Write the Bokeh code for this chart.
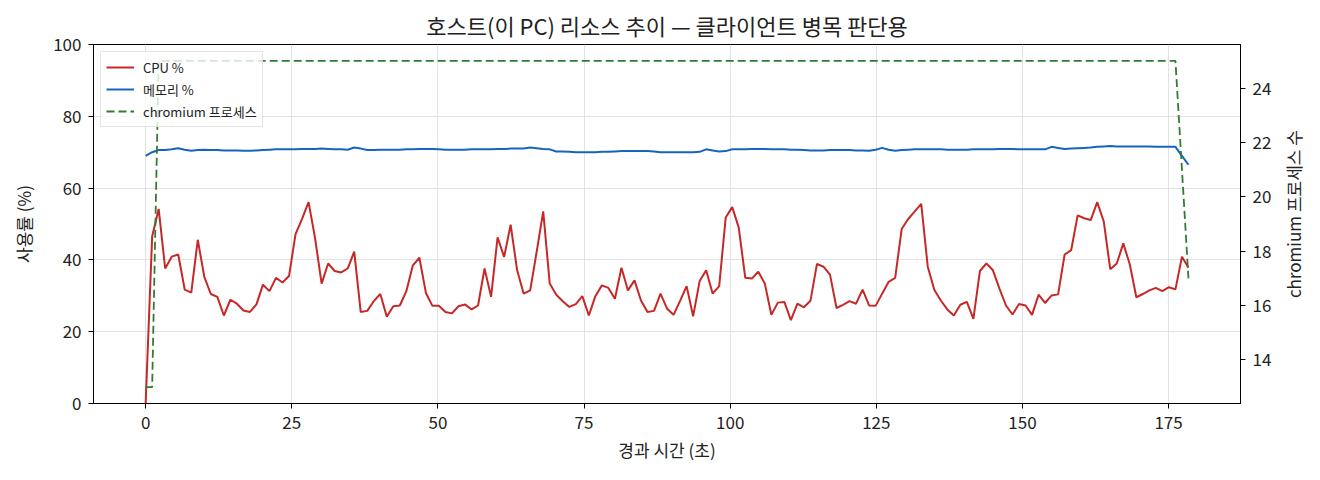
import math

from bokeh.embed import file_html
from bokeh.resources import INLINE
from bokeh.plotting import figure
from bokeh.layouts import row
from bokeh.models import Range1d, LinearAxis, Legend, LegendItem, FixedTicker
from bokeh.core.properties import value

# sampling interval of the monitor (s)
SAMPLE_SEC = 1.115

cpu = [0.0, 46.5, 54.2, 37.6, 40.9, 41.5, 31.7, 30.9, 45.6, 35.3,
       30.5, 29.7, 24.5, 28.9, 27.8, 25.9, 25.5, 27.6, 33.1, 31.3,
       35.0, 33.7, 35.5, 47.2, 51.4, 56.1, 46.0, 33.4, 39.0, 36.9,
       36.5, 37.6, 42.3, 25.5, 25.8, 28.5, 30.5, 24.2, 27.1, 27.3,
       31.3, 38.5, 40.6, 30.8, 27.2, 27.2, 25.5, 25.1, 27.1, 27.6,
       26.2, 27.3, 37.6, 29.7, 46.3, 40.8, 49.8, 37.1, 30.6, 31.5,
       42.3, 53.5, 33.4, 30.3, 28.5, 26.9, 27.7, 29.9, 24.5, 29.9,
       32.9, 32.2, 29.2, 37.8, 31.5, 34.3, 28.7, 25.5, 25.8, 30.6,
       26.4, 24.7, 28.6, 32.7, 24.3, 34.1, 37.1, 30.6, 32.7, 51.8,
       54.7, 49.0, 35.0, 34.8, 36.7, 33.4, 24.7, 28.1, 28.3, 23.2,
       27.8, 26.8, 28.6, 38.9, 38.1, 35.9, 26.6, 27.5, 28.5, 27.8,
       31.7, 27.3, 27.2, 30.6, 33.9, 35.0, 48.6, 51.4, 53.5, 55.6,
       38.1, 31.7, 28.7, 26.2, 24.5, 27.5, 28.3, 23.6, 36.9, 39.0,
       37.1, 32.0, 27.3, 24.8, 27.7, 27.3, 24.7, 30.3, 28.0, 30.1,
       30.4, 41.5, 42.7, 52.4, 51.6, 51.1, 56.1, 50.7, 37.4, 39.0,
       44.6, 38.7, 29.6, 30.5, 31.5, 32.2, 31.3, 32.4, 31.8, 40.9,
       37.8]

mem = [69.0, 70.0, 70.6, 70.6, 70.8, 71.1, 70.7, 70.4, 70.6, 70.7,
       70.6, 70.6, 70.5, 70.5, 70.5, 70.4, 70.4, 70.5, 70.6, 70.7,
       70.8, 70.8, 70.8, 70.8, 70.9, 70.9, 70.9, 71.0, 70.9, 70.8,
       70.8, 70.7, 71.3, 71.0, 70.6, 70.6, 70.7, 70.7, 70.7, 70.7,
       70.8, 70.8, 70.9, 70.9, 70.9, 70.8, 70.7, 70.7, 70.7, 70.7,
       70.8, 70.8, 70.8, 70.8, 70.9, 70.9, 71.0, 71.0, 71.0, 71.3,
       71.1, 70.9, 70.8, 70.2, 70.2, 70.1, 70.0, 70.0, 70.0, 70.0,
       70.1, 70.1, 70.2, 70.3, 70.3, 70.3, 70.3, 70.3, 70.2, 70.0,
       70.0, 70.0, 70.0, 70.0, 70.0, 70.1, 70.8, 70.5, 70.2, 70.3,
       70.8, 70.8, 70.8, 70.9, 70.9, 70.9, 70.8, 70.8, 70.8, 70.7,
       70.7, 70.6, 70.5, 70.5, 70.5, 70.6, 70.6, 70.6, 70.6, 70.5,
       70.5, 70.4, 70.7, 71.2, 70.7, 70.4, 70.6, 70.7, 70.8, 70.8,
       70.8, 70.8, 70.8, 70.7, 70.7, 70.7, 70.7, 70.8, 70.8, 70.8,
       70.8, 70.9, 70.9, 70.9, 70.8, 70.8, 70.8, 70.8, 70.8, 71.5,
       71.2, 70.9, 71.0, 71.1, 71.2, 71.3, 71.5, 71.6, 71.7, 71.6,
       71.6, 71.6, 71.6, 71.6, 71.6, 71.5, 71.5, 71.5, 71.5, 69.0,
       66.5]

procs = [13, 13] + [25] * 157 + [21, 17]

elapsed = [round(i * SAMPLE_SEC, 3) for i in range(len(cpu))]

FONT = "Noto Sans CJK KR"
H = 472

p = figure(width=1274, height=H, output_backend="svg", toolbar_location=None,
           x_range=Range1d(-8.92, 187.3), y_range=Range1d(0, 100),
           title="호스트(이 PC) 리소스 추이 — 클라이언트 병목 판단용",
           min_border_left=93, min_border_right=34, min_border_top=44, min_border_bottom=69)
p.extra_y_ranges = {"proc": Range1d(12.4, 25.6)}

p.title.align = "center"
p.title.text_font = FONT
p.title.text_font_size = "22px"
p.title.text_font_style = "normal"
p.title.text_color = "#222222"
p.title.standoff = 7

p.outline_line_color = "black"
p.outline_line_alpha = 1
p.outline_line_width = 1

p.xgrid.grid_line_color = "#e2e2e2"
p.ygrid.grid_line_color = "#e2e2e2"

p.xaxis.ticker = FixedTicker(ticks=[0, 25, 50, 75, 100, 125, 150, 175])
p.yaxis.ticker = FixedTicker(ticks=[0, 20, 40, 60, 80, 100])
p.xaxis.axis_label = "경과 시간 (초)"
p.yaxis.axis_label = "사용률 (%)"

right = LinearAxis(y_range_name="proc",
                   ticker=FixedTicker(ticks=[14, 16, 18, 20, 22, 24]))
p.add_layout(right, "right")

for ax in [p.xaxis[0], p.yaxis[0], right]:
    ax.axis_line_color = "black"
    ax.major_tick_line_color = "black"
    ax.major_tick_out = 5
    ax.major_tick_in = 0
    ax.minor_tick_line_color = None
    ax.major_label_text_font = FONT
    ax.major_label_text_font_size = "17px"
    ax.major_label_text_color = "#222222"
    ax.axis_label_text_font = FONT
    ax.axis_label_text_font_size = "17px"
    ax.axis_label_text_font_style = "normal"
    ax.axis_label_text_color = "#222222"
    ax.major_label_standoff = 7

p.xaxis.axis_label_standoff = 5
p.yaxis.axis_label_standoff = 14

r_cpu = p.line(elapsed, cpu, line_color="#c62828", line_width=2)
r_mem = p.line(elapsed, mem, line_color="#1565c0", line_width=2)
r_proc = p.line(elapsed, procs, line_color="#2e7d32", line_width=1.8,
                line_dash="8 4", y_range_name="proc")

legend = Legend(items=[LegendItem(label="CPU %", renderers=[r_cpu]),
                       LegendItem(label="메모리 %", renderers=[r_mem]),
                       LegendItem(label="chromium 프로세스", renderers=[r_proc])],
                location="top_left")
legend.label_text_font = FONT
legend.label_text_font_size = "13px"
legend.label_text_color = "#222222"
legend.border_line_color = "#cccccc"
legend.background_fill_alpha = 0.8
legend.glyph_width = 28
legend.glyph_height = 20
legend.label_height = 20
legend.label_standoff = 9
legend.spacing = 2
legend.padding = 5
legend.margin = 7
p.add_layout(legend, "center")

# narrow strip holding the right axis title, read bottom-to-top
side = figure(width=38, height=H, output_backend="svg", toolbar_location=None,
              x_range=Range1d(0, 1), y_range=Range1d(0, H),
              min_border=0, min_border_left=0, min_border_right=0,
              min_border_top=0, min_border_bottom=0)
side.axis.visible = False
side.grid.visible = False
side.outline_line_color = None
side.text(x=[0.5], y=[H - 223], text=["chromium 프로세스 수"], angle=math.pi / 2,
          text_align="center", text_baseline="middle", text_font=value(FONT),
          text_font_size="17px", text_color="#222222")

open("out.html", "w").write(file_html(row(p, side), INLINE))
